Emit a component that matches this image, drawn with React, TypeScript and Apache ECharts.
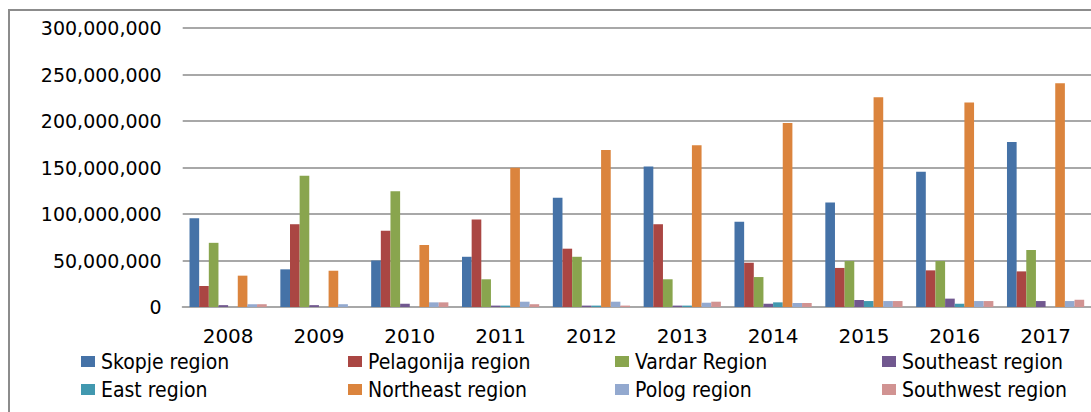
import React, { useEffect, useRef } from "react";
import * as echarts from "echarts";

const years = ["2008", "2009", "2010", "2011", "2012", "2013", "2014", "2015", "2016", "2017"];
const seriesNames = [
  "Skopje region",
  "Pelagonija region",
  "Vardar Region",
  "Southeast region",
  "East region",
  "Northeast region",
  "Polog region",
  "Southwest region",
];
const skopje = [95500000, 40500000, 50000000, 54000000, 117500000, 151000000, 91700000, 112500000, 145500000, 177400000];
const pelagonija = [22600000, 89000000, 82000000, 94000000, 62700000, 89000000, 47600000, 42000000, 39400000, 38300000];
const vardar = [69000000, 141000000, 124400000, 29800000, 54000000, 29800000, 32200000, 49500000, 49500000, 61300000];
const southeast = [2000000, 2000000, 3500000, 1500000, 1500000, 1500000, 3500000, 7500000, 9000000, 6400000];
const east = [0, 0, 0, 1500000, 1500000, 1500000, 5000000, 6400000, 3500000, 0];
const northeast = [33700000, 39000000, 66700000, 149800000, 168800000, 174000000, 197800000, 225500000, 220000000, 240500000];
const polog = [3000000, 3000000, 5000000, 5700000, 5700000, 4600000, 4300000, 6400000, 6400000, 6400000];
const southwest = [3000000, 0, 5000000, 3000000, 1500000, 5700000, 4300000, 6400000, 6400000, 7800000];
const allValues = [skopje, pelagonija, vardar, southeast, east, northeast, polog, southwest];
const colors = ["#4572A7", "#AA4643", "#89A54E", "#71588F", "#4198AF", "#DB843D", "#93A9CF", "#D19392"];

const fmt = (v: number) => v.toString().replace(/\B(?=(\d{3})+(?!\d))/g, ",");

export default function App() {
  const ref = useRef<HTMLDivElement>(null);
  useEffect(() => {
    if (!ref.current) return;
    const chart = echarts.init(ref.current, undefined, { renderer: "svg" });
    const legendCols = [81, 348, 615, 882];
    const legends = legendCols.map((x, i) => ({
      orient: "vertical",
      left: x,
      top: 351,
      icon: "rect",
      itemWidth: 14,
      itemHeight: 11,
      itemGap: 7,
      padding: 0,
      data: [seriesNames[i], seriesNames[i + 4]],
      textStyle: {
        fontFamily: "'DejaVu Sans Condensed', 'Liberation Sans', sans-serif",
        fontSize: 21,
        lineHeight: 20,
        color: "#000",
        padding: [0, 0, 0, 1],
      },
    }));
    chart.setOption({
      animation: false,
      color: colors,
      grid: { left: 182.7, top: 28, width: 915.6, height: 279 },
      legend: legends,
      xAxis: {
        type: "category",
        data: years,
        axisLine: { show: true, lineStyle: { color: "#a8a8a8", width: 2 } },
        axisTick: { show: false },
        axisLabel: {
          color: "#000",
          fontFamily: "'DejaVu Sans', sans-serif",
          fontSize: 20,
          margin: 19,
        },
      },
      yAxis: {
        type: "value",
        min: 0,
        max: 300000000,
        interval: 50000000,
        axisLine: { show: false },
        axisTick: { show: false },
        splitLine: { lineStyle: { color: "#a8a8a8", width: 2 } },
        axisLabel: {
          color: "#000",
          fontFamily: "'DejaVu Sans', sans-serif",
          fontSize: 19,
          margin: 21,
          formatter: (v: number) => fmt(v),
        },
      },
      graphic: [
        {
          type: "rect",
          shape: { x: 9, y: 10, width: 1200, height: 600 },
          style: { fill: "none", stroke: "#8c8c8c", lineWidth: 2 },
          silent: true,
        },
      ],
      series: seriesNames.map((name, i) => ({
        name,
        type: "bar",
        data: allValues[i],
        barGap: "0%",
        barCategoryGap: "15%",
        itemStyle: { color: colors[i] },
      })),
    });
    return () => chart.dispose();
  }, []);
  return (
    <div style={{ position: "fixed", left: 0, top: 0, width: 1091, height: 412, overflow: "hidden", background: "#fff" }}>
      <div ref={ref} style={{ width: 1091, height: 412 }} />
    </div>
  );
}
